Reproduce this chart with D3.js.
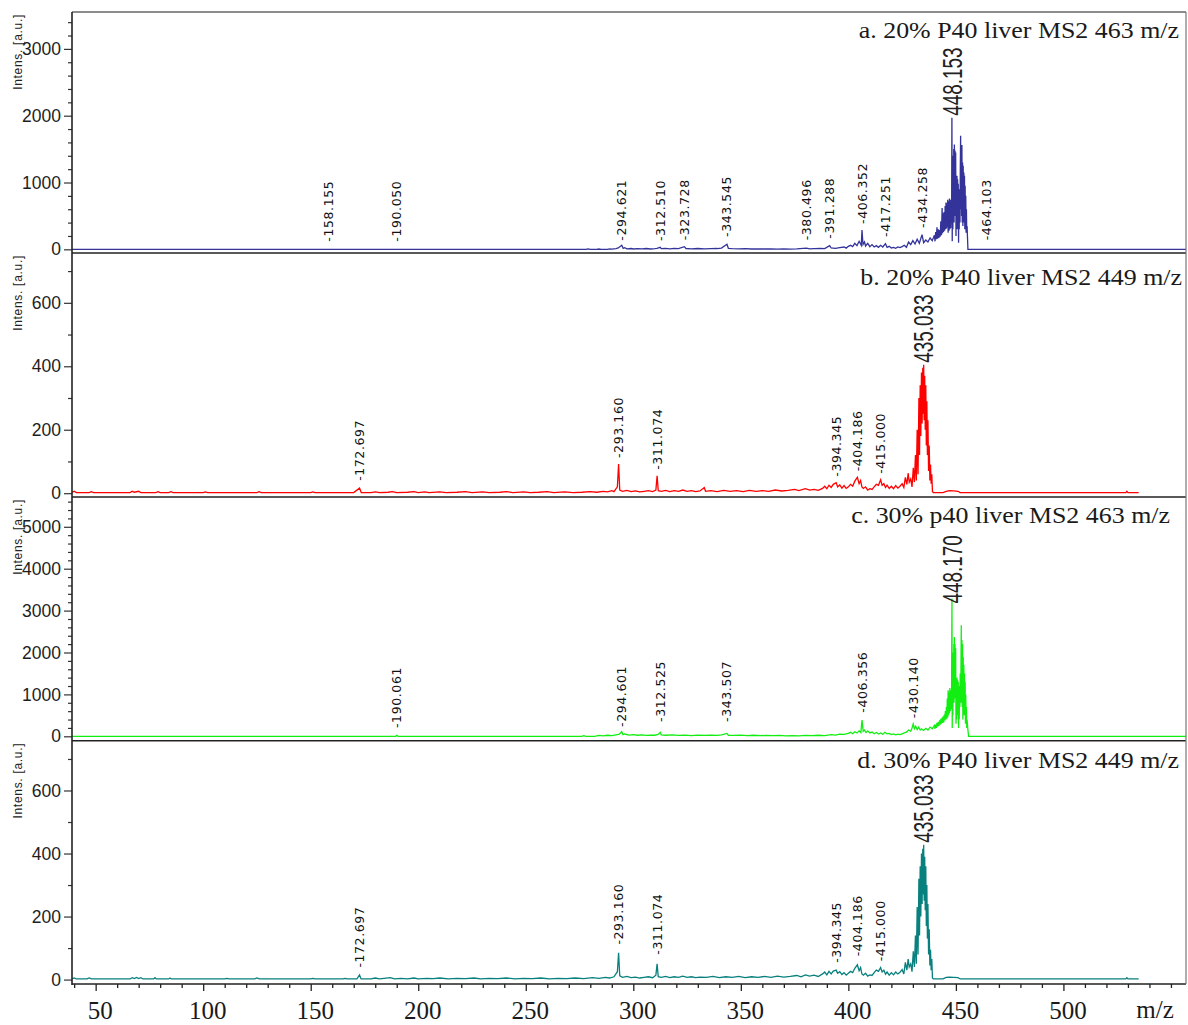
<!DOCTYPE html>
<html>
<head>
<meta charset="utf-8">
<script src="https://cdn.jsdelivr.net/npm/d3@7"></script>
<style>
  body { margin: 0; background: #fff; }
  svg { display: block; }
</style>
</head>
<body>
<svg id="chart" width="1188" height="1025"></svg>
<script>
// ---- m/z range shown on the shared x axis ----
const mzDomain = [39, 557];
const xMajorTicks = [50, 100, 150, 200, 250, 300, 350, 400, 450, 500];
const xMinorTicks = d3.range(40, 551, 10);
const xUnit = "m/z";
const yAxisTitle = "Intens. [a.u.]";

// ---- panel titles ----
const titleA = "a. 20% P40 liver MS2 463 m/z";
const titleB = "b. 20% P40 liver MS2 449 m/z";
const titleC = "c. 30% p40 liver MS2 463 m/z";
const titleD = "d. 30% P40 liver MS2 449 m/z";

// ---- intensity axis ticks ----
const yTicksA = [0, 1000, 2000, 3000];
const yMinorA = d3.range(0, 3401, 200);
const yTicksB = [0, 200, 400, 600];
const yMinorB = d3.range(0, 701, 100);
const yTicksC = [0, 1000, 2000, 3000, 4000, 5000];
const yMinorC = d3.range(0, 5601, 200);
const yTicksD = [0, 200, 400, 600];
const yMinorD = d3.range(0, 701, 100);

// ---- spectra: [m/z, intensity] ----
const spectrumA = [
  [39,0],[275,0],[278,0],[279,6],[280,0],[283,0],[284,5],[285,0],[288,0],[289,8],[290,3],[292,10],[293,20],
  [294.62,60],[295.3,15],[296,25],[297,8],[299,12],[300,5],[302,10],[304,6],[306,12],[308,5],[310,10],[311,15],
  [312.51,30],[313,10],[315,14],[317,8],[319,15],[321,10],[323.73,40],[324.5,12],[327,8],[330,12],[333,6],[336,10],
  [339,12],[341,18],[343.55,75],[344.2,15],[346,10],[349,6],[352,10],[355,5],[358,8],[361,5],[364,6],[367,4],
  [370,5],[373,3],[376,6],[380.5,18],[382,8],[384,10],[387,14],[389,10],[391.29,55],[392,20],[394,15],[396,25],
  [398,35],[399,18],[400,45],[401,60],[402,40],[403,90],[404,55],[405,120],[406,60],[406.35,290],[406.8,70],
  [407.5,110],[408,50],[409,90],[410,40],[411,70],[412,35],[413,55],[414,30],[415,60],[416,35],[417.25,85],
  [418,30],[419,45],[420,20],[421,30],[422,15],[423,35],[424,25],[425,40],[426,60],[427,30],[428,110],[429,70],
  [430,130],[431,80],[432,150],[433,90],[434.26,220],[435,100],[436,140],[437,110],[438,170],[439,130],[440,210],
  [440.3,120],[440.6,260],[440.9,150],[441.2,330],[441.5,160],[441.8,300],[442.1,170],[442.4,290],[442.7,190],
  [443,420],[443.3,210],[443.6,620],[443.8,240],[444,540],[444.25,260],[444.5,560],[444.75,280],[445,650],
  [445.2,300],[445.4,700],[445.6,310],[445.8,690],[446,330],[446.2,740],[446.4,250],[446.6,720],[446.8,280],
  [447,760],[447.2,300],[447.4,740],[447.6,320],[447.8,680],[448,400],[448.15,1970],[448.3,120],[448.5,1300],
  [448.6,300],[448.7,1400],[448.85,500],[449,1500],[449.15,400],[449.3,1570],[449.45,700],[449.6,1480],
  [449.75,500],[449.9,1450],[450.05,200],[450.2,1000],[450.35,300],[450.5,1100],[450.65,500],[450.8,1050],
  [450.95,300],[451.1,980],[451.25,100],[451.4,900],[451.55,300],[451.7,900],[451.9,400],[452.05,1200],
  [452.2,1700],[452.35,600],[452.5,1400],[452.65,500],[452.8,1560],[452.95,400],[453.1,1300],[453.25,350],
  [453.4,1250],[453.55,500],[453.7,1150],[453.85,400],[454,1100],[454.15,300],[454.3,950],[454.45,300],
  [454.6,800],[454.75,250],[454.9,600],[455.05,250],[455.2,350],[455.6,0],[557,0]
];

const spectrumB = [
  [39,2],[40,6],[41,2],[47,2],[48,5],[49,2],[66,2],[67,6],[68,3],[70,6],[71,2],[78,2],[79,5],[80,2],[84,2],[85,5],
  [86,2],[100,2],[101,4],[102,2],[125,2],[126,5],[127,2],[150,2],[151,4],[152,2],[170,2],[172.7,16],[173.5,2],
  [178,2],[180,4],[182,2],[186,3],[188,5],[190,2],[195,3],[198,5],[200,2],[203,4],[205,2],[210,4],[213,2],[218,3],
  [222,5],[225,2],[230,4],[233,2],[238,3],[241,5],[244,2],[249,4],[252,2],[256,3],[260,5],[263,2],[268,4],[272,2],
  [276,3],[280,5],[283,3],[286,6],[288,4],[290,8],[291,5],[292.6,20],[293.16,92],[293.7,10],[295,6],[297,9],[299,5],
  [301,7],[303,4],[305,6],[307,8],[309,5],[310.5,10],[311.07,55],[311.6,8],[313,6],[315,9],[317,5],[319,8],[321,6],
  [323,10],[325,6],[327,8],[329,5],[331,7],[333,18],[333.6,6],[336,8],[339,5],[342,9],[345,6],[348,8],[351,5],
  [354,9],[357,6],[360,8],[363,6],[366,10],[369,7],[372,9],[375,12],[377,8],[380,14],[382,10],[384,12],[386,9],
  [388,15],[389,22],[390,14],[391,25],[392,18],[393,28],[394.35,33],[395,20],[396,26],[397,16],[398,24],[399,15],
  [400,20],[401,28],[402,22],[403,38],[404.19,50],[405,30],[405.7,40],[406.3,20],[407,15],[408,20],[409,10],
  [410,14],[411,12],[412,20],[413,28],[414,25],[415,42],[415.7,25],[416.5,30],[417.3,18],[418,25],[419,15],
  [420,22],[421,14],[422,24],[423,16],[424,22],[425,30],[425.8,18],[426.5,50],[427.2,28],[427.8,63],[428.3,35],
  [429,45],[429.6,20],[430.2,80],[430.7,35],[431.2,120],[431.6,40],[432,200],[432.4,60],[432.8,300],[433.1,120],
  [433.4,340],[433.7,180],[434,380],[434.3,220],[434.6,395],[434.85,250],[435.03,405],[435.25,230],[435.5,370],
  [435.75,200],[436,340],[436.25,150],[436.5,290],[436.75,120],[437,230],[437.3,70],[437.6,150],[437.9,40],
  [438.2,90],[438.5,30],[438.8,60],[439.1,5],[439.5,2],[444,2],[445.5,6],[447,8],[449,7],[451,6],[452,2],
  [529,2],[529.5,6],[530,2],[535,2]
];

const spectrumC = [
  [39,0],[188,0],[189.5,0],[190.06,25],[190.6,0],[276,0],[277,15],[278,0],[282,0],[284,20],[286,10],[288,25],
  [290,15],[292,35],[293.5,50],[294.6,110],[295.2,40],[296,55],[298,30],[300,40],[302,25],[304,35],[306,20],
  [308,30],[310,25],[311.5,45],[312.53,95],[313,35],[315,25],[318,35],[321,20],[324,30],[327,18],[330,28],
  [333,20],[336,30],[339,22],[341,35],[343.51,70],[344.2,25],[347,20],[350,30],[353,18],[356,25],[359,15],
  [362,22],[365,15],[368,20],[371,12],[374,18],[377,10],[380,20],[383,15],[386,25],[389,18],[392,40],[394,30],
  [396,50],[398,45],[400,70],[401,95],[402,60],[403,110],[404,80],[405,130],[405.8,90],[406.36,390],[406.9,120],
  [407.5,150],[408.2,90],[409,130],[410,80],[411,100],[412,60],[413,90],[414,55],[415,80],[416,50],[417,95],
  [418,60],[419,70],[420,40],[421,55],[422,35],[423,50],[424,40],[425,60],[426,80],[427,100],[428,150],[429,120],
  [429.6,200],[430.14,293],[430.7,180],[431.3,240],[432,160],[432.7,220],[433.4,150],[434,180],[435,140],
  [436,190],[437,150],[438,220],[439,180],[440,260],[440.3,180],[440.6,280],[440.9,200],[441.2,320],[441.5,230],
  [441.8,340],[442.1,250],[442.4,380],[442.7,280],[443,420],[443.3,300],[443.6,450],[443.85,320],[444.1,480],
  [444.35,330],[444.6,520],[444.85,380],[445.1,600],[445.35,400],[445.6,700],[445.8,420],[446,900],[446.2,450],
  [446.4,1100],[446.6,500],[446.8,1050],[447,550],[447.2,1150],[447.4,600],[447.6,1100],[447.8,650],[448,1050],
  [448.17,3290],[448.3,200],[448.45,1500],[448.6,500],[448.75,2000],[448.9,900],[449.05,2200],[449.15,800],
  [449.3,2370],[449.45,1000],[449.6,2200],[449.75,900],[449.9,2100],[450.05,300],[450.2,1300],[450.35,400],
  [450.5,1400],[450.65,600],[450.8,1350],[450.95,500],[451.1,1300],[451.25,200],[451.4,1100],[451.55,400],
  [451.7,1200],[451.85,700],[452,1500],[452.25,800],[452.5,2650],[452.65,800],[452.8,2300],[452.95,700],
  [453.1,2200],[453.25,400],[453.4,1900],[453.55,600],[453.7,1700],[453.85,500],[454,1500],[454.15,600],
  [454.3,1300],[454.45,300],[454.6,1000],[454.75,300],[454.9,700],[455.05,200],[455.2,400],[455.5,200],
  [455.9,0],[557,0]
];

const spectrumD = [
  [39,2],[40,5],[41,2],[46,2],[47,5],[48,2],[66,2],[67,6],[68,3],[69,7],[70,3],[71,6],[72,2],[77,2],[77.6,6],
  [78.2,2],[84,2],[84.6,5],[85.2,2],[110,2],[111,4],[112,2],[124,2],[125,5],[126,2],[150,2],[151,4],[152,2],
  [165,2],[166,4],[167,2],[171.5,2],[172.7,15],[173.4,2],[178,2],[180,5],[182,2],[184,4],[187,6],[189,2],[192,4],
  [195,2],[198,5],[200,2],[204,4],[207,3],[210,5],[214,2],[218,4],[222,3],[226,5],[229,2],[233,4],[237,3],[241,5],
  [245,2],[249,4],[253,3],[257,5],[261,2],[265,4],[269,3],[273,5],[277,3],[281,6],[284,4],[287,7],[289,5],[291,9],
  [292.6,25],[293.16,85],[293.7,12],[295,7],[297,10],[299,6],[301,8],[303,5],[305,7],[307,9],[309,6],[310.5,14],
  [311.07,50],[311.6,9],[313,7],[315,10],[317,6],[319,9],[321,7],[323,11],[325,7],[327,9],[329,6],[331,8],[334,7],
  [337,10],[340,6],[343,9],[346,7],[349,10],[352,6],[355,9],[358,7],[361,10],[364,7],[367,11],[370,8],[373,10],
  [376,13],[378,9],[380,15],[382,11],[384,14],[386,10],[388,18],[389,24],[390,15],[391,26],[392,18],[393,27],
  [394.35,30],[395,20],[396,25],[397,16],[398,22],[399,14],[400,20],[401,26],[402,22],[403,36],[404.19,47],
  [405,28],[405.7,38],[406.3,18],[407,14],[408,20],[409,11],[410,15],[411,13],[412,22],[413,30],[414,26],[415,38],
  [415.7,24],[416.5,30],[417.3,17],[418,24],[419,14],[420,22],[421,15],[422,24],[423,18],[424,23],[425,32],
  [425.8,18],[426.5,55],[427.2,30],[427.8,65],[428.3,40],[429,50],[429.6,25],[430.2,90],[430.7,40],[431.2,140],
  [431.6,50],[432,230],[432.4,80],[432.8,320],[433.1,140],[433.4,360],[433.7,200],[434,400],[434.3,240],
  [434.6,415],[434.85,270],[435.03,428],[435.25,250],[435.5,390],[435.75,220],[436,360],[436.25,170],[436.5,300],
  [436.75,130],[437,240],[437.3,80],[437.6,160],[437.9,45],[438.2,95],[438.5,30],[438.8,65],[439.1,5],[439.5,2],
  [444,2],[445.5,7],[447,8],[449,7],[451,6],[452,2],[529,2],[529.5,6],[530,2],[535,2]
];

// ---- annotated peaks: [m/z, intensity under the label] ----
const peakLabelsA = [[158.155,25],[190.050,25],[294.621,40],[312.510,35],[323.728,45],[343.545,95],
  [380.496,45],[391.288,70],[406.352,290],[417.251,95],[434.258,230],[464.103,45]];
const basePeakA = [448.153, 1970];
const peakLabelsB = [[172.697,20],[293.160,92],[311.074,55],[394.345,33],[404.186,50],[415.000,42]];
const basePeakB = [435.033, 405];
const peakLabelsC = [[190.061,55],[294.601,80],[312.525,200],[343.507,200],[406.356,420],[430.140,290]];
const basePeakC = [448.170, 3120];
const peakLabelsD = [[172.697,19],[293.160,92],[311.074,60],[394.345,34],[404.186,55],[415.000,39]];
const basePeakD = [435.033, 428];

// ---- layout ----
const svg = d3.select("#chart");
const plotLeft = 72, plotRight = 1186;
const x = d3.scaleLinear().domain(mzDomain).range([plotLeft, plotRight]);

const panels = [
  { title: titleA, data: spectrumA, labels: peakLabelsA, base: basePeakA, color: "#33339a",
    yDomain: [-55, 3552], top: 12, bottom: 253, ticks: yTicksA, minor: yMinorA, titleX: 1179, titleY: 38 },
  { title: titleB, data: spectrumB, labels: peakLabelsB, base: basePeakB, color: "#ff0000",
    yDomain: [-12, 757], top: 253, bottom: 497, ticks: yTicksB, minor: yMinorB, titleX: 1182, titleY: 285 },
  { title: titleC, data: spectrumC, labels: peakLabelsC, base: basePeakC, color: "#12ee12",
    yDomain: [-105, 5711], top: 497, bottom: 740.7, ticks: yTicksC, minor: yMinorC, titleX: 1170, titleY: 523 },
  { title: titleD, data: spectrumD, labels: peakLabelsD, base: basePeakD, color: "#08807e",
    yDomain: [-14, 758], top: 740.7, bottom: 984, ticks: yTicksD, minor: yMinorD, titleX: 1179, titleY: 768 }
];

const sans = "'Liberation Sans', Arial, sans-serif";
const serif = "'Liberation Serif', 'Times New Roman', serif";
const small = "'DejaVu Sans', Verdana, sans-serif";

const defs = svg.append("defs");

panels.forEach((p, i) => {
  const y = d3.scaleLinear().domain(p.yDomain).range([p.bottom, p.top]);
  const g = svg.append("g");

  defs.append("clipPath").attr("id", "clip" + i)
    .append("rect").attr("x", plotLeft).attr("y", p.top)
    .attr("width", plotRight - plotLeft).attr("height", p.bottom - p.top);

  // spectrum trace
  const line = d3.line().x(d => x(d[0])).y(d => y(d[1]));
  g.append("path").datum(p.data)
    .attr("clip-path", `url(#clip${i})`)
    .attr("fill", "none").attr("stroke", p.color)
    .attr("stroke-width", 1.3).attr("stroke-linejoin", "miter")
    .attr("d", line);

  // intensity axis, major ticks with labels
  const ax = g.append("g").attr("transform", `translate(${plotLeft},0)`)
    .call(d3.axisLeft(y).tickValues(p.ticks).tickSize(8).tickSizeOuter(0).tickPadding(3).tickFormat(d3.format("d")));
  ax.select(".domain").remove();
  ax.selectAll("line").attr("stroke", "#333").attr("stroke-width", 1.2);
  ax.selectAll("text").attr("font-family", sans).attr("font-size", 17.5).attr("fill", "#1e1e1e");

  // minor ticks
  const axm = g.append("g").attr("transform", `translate(${plotLeft},0)`)
    .call(d3.axisLeft(y).tickValues(p.minor.filter(v => !p.ticks.includes(v))).tickSize(4).tickSizeOuter(0).tickFormat(""));
  axm.select(".domain").remove();
  axm.selectAll("line").attr("stroke", "#333").attr("stroke-width", 1.2);

  // axis title
  g.append("text")
    .attr("transform", `translate(22,${p.top + 2}) rotate(-90)`)
    .attr("text-anchor", "end")
    .attr("font-family", sans).attr("font-size", 12).attr("letter-spacing", 0.7)
    .attr("fill", "#222").text(yAxisTitle);

  // panel title
  g.append("text")
    .attr("transform", `translate(${p.titleX},${p.titleY}) scale(1.08,1)`)
    .attr("text-anchor", "end")
    .attr("font-family", serif).attr("font-size", 24)
    .attr("fill", "#1a1a1a").text(p.title);

  // annotated peaks
  g.selectAll("text.peak").data(p.labels).join("text")
    .attr("class", "peak")
    .attr("transform", d => `translate(${x(d[0])},${y(d[1]) - 6}) rotate(-90)`)
    .attr("dy", "0.36em")
    .attr("font-family", small).attr("font-size", 12.5).attr("letter-spacing", 0.6)
    .attr("fill", "#111")
    .text(d => "-" + d[0].toFixed(3));

  // base peak label
  g.append("text")
    .attr("transform", `translate(${x(p.base[0])},${y(p.base[1]) - 2}) rotate(-90) scale(0.7,1)`)
    .attr("dy", "0.36em")
    .attr("font-family", sans).attr("font-size", 27)
    .attr("fill", "#222")
    .text(p.base[0].toFixed(3));

  // separator / frame line at panel bottom
  svg.append("line").attr("x1", plotLeft).attr("x2", plotRight)
    .attr("y1", p.bottom).attr("y2", p.bottom)
    .attr("stroke", "#222").attr("stroke-width", 1.5);
});

// outer frame: top, left axis line, right border
svg.append("line").attr("x1", plotLeft).attr("x2", plotRight).attr("y1", 12).attr("y2", 12)
  .attr("stroke", "#666").attr("stroke-width", 1.3);
svg.append("line").attr("x1", plotLeft).attr("x2", plotLeft).attr("y1", 12).attr("y2", 985)
  .attr("stroke", "#222").attr("stroke-width", 1.6);
svg.append("line").attr("x1", plotRight).attr("x2", plotRight).attr("y1", 12).attr("y2", 984)
  .attr("stroke", "#777").attr("stroke-width", 1.2);

// shared m/z axis
const xAxisY = 984;
const xa = svg.append("g").attr("transform", `translate(0,${xAxisY})`)
  .call(d3.axisBottom(x).tickValues(xMajorTicks).tickSize(7).tickSizeOuter(0).tickFormat(d3.format("d")));
xa.select(".domain").remove();
xa.selectAll("line").attr("stroke", "#222").attr("stroke-width", 1.3);
xa.selectAll("text").attr("y", 35).attr("dy", 0).attr("dx", 4)
  .attr("font-family", serif).attr("font-size", 25).attr("fill", "#1a1a1a");

const xm = svg.append("g").attr("transform", `translate(0,${xAxisY})`)
  .call(d3.axisBottom(x).tickValues(xMinorTicks.filter(v => !xMajorTicks.includes(v))).tickSize(4).tickSizeOuter(0).tickFormat(""));
xm.select(".domain").remove();
xm.selectAll("line").attr("stroke", "#222").attr("stroke-width", 1.3);

svg.append("text").attr("x", 1155).attr("y", 1018).attr("text-anchor", "middle")
  .attr("font-family", serif).attr("font-size", 25).attr("fill", "#1a1a1a").text(xUnit);
</script>
</body>
</html>
